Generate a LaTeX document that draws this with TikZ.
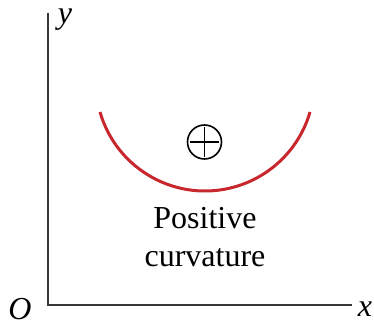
\documentclass[tikz,border=0pt]{standalone}
\usepackage{fontspec}
\setmainfont{Liberation Serif}
\definecolor{curvered}{RGB}{200,40,45}
\definecolor{axisgray}{RGB}{55,55,55}
\begin{document}
\begin{tikzpicture}[x=1pt,y=1pt,
  axis/.style={draw=axisgray,line width=2pt},
  lbl/.style={font=\fontsize{32}{38}\selectfont\itshape,inner sep=0pt},
  txt/.style={font=\fontsize{32}{38}\selectfont,align=center,inner sep=0pt}]
\useasboundingbox (0,0) rectangle (374,323);
\coordinate (origin) at (48,18);
\coordinate (ytop) at (48,310);
\coordinate (xend) at (352,18);
\draw[axis] (ytop) -- (origin) -- (xend);
\node[lbl] (ylab) at (65,303) {y};
\node[lbl,anchor=south] (olab) at (20,3) {O};
\node[lbl] (xlab) at (365,14) {x};
\draw[curvered,line width=3pt] (205,241.3) ++(196.1:109.3) arc[start angle=196.1,end angle=343.9,radius=109.3];
\node[draw=black,circle,line width=1.6pt,minimum size=34pt,inner sep=0pt] (plus) at (204.5,181) {};
\draw[line width=1.6pt,shorten <=3pt,shorten >=3pt] (plus.west) -- (plus.east);
\draw[line width=1.6pt,shorten <=3pt,shorten >=3pt] (plus.north) -- (plus.south);
\node[txt] (label) at (205,86) {Positive\\curvature};
\end{tikzpicture}
\end{document}
